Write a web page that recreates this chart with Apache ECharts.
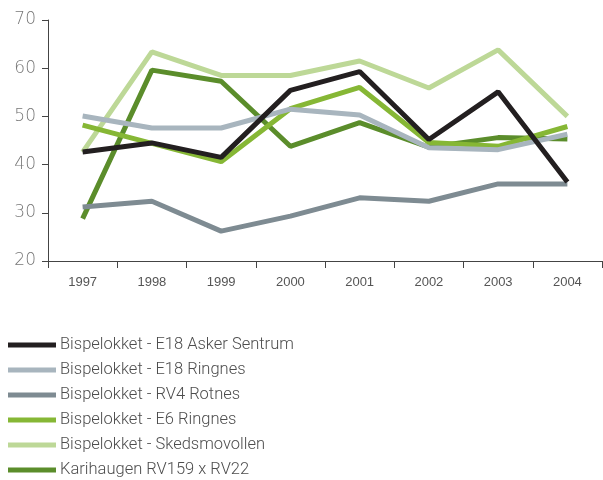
<!DOCTYPE html>
<html>
<head>
<meta charset="utf-8">
<script src="https://cdn.jsdelivr.net/npm/echarts@6/dist/echarts.min.js"></script>
<style>
html,body{margin:0;padding:0;background:#fff;}
#chart{width:603px;height:480px;}
</style>
</head>
<body>
<div id="chart"></div>
<script>
//数据
var years=['1997','1998','1999','2000','2001','2002','2003','2004'];
var names=['Bispelokket - E18 Asker Sentrum','Bispelokket - E18 Ringnes','Bispelokket - RV4 Rotnes','Bispelokket - E6 Ringnes','Bispelokket - Skedsmovollen','Karihaugen RV159 x RV22'];
var askerSentrum=[42.6,44.5,41.5,55.4,59.3,45.2,55.1,36.4];
var e18Ringnes=[50.1,47.6,47.6,51.5,50.3,43.5,43.1,46.3];
var rv4Rotnes=[31.2,32.4,26.2,29.3,33.1,32.4,36.0,36.0];
var e6Ringnes=[48.2,44.4,40.6,51.6,56.0,44.6,43.8,47.9];
var skedsmovollen=[42.6,63.4,58.5,58.5,61.5,55.9,63.8,50.0];
var karihaugen=[28.8,59.6,57.3,43.8,48.7,43.6,45.6,45.3];
var colors=['#231f20','#a8b5be','#7e8b92','#86b735','#bdd897','#5b8d2b'];

var chartData=[askerSentrum,e18Ringnes,rv4Rotnes,e6Ringnes,skedsmovollen,karihaugen];
var series=[];
for(var i=0;i<chartData.length;i++){
	series.push({
		name:names[i],
		type:'line',
		data:chartData[i],
		symbol:'none',
		lineStyle:{width:5,color:colors[i]},
		itemStyle:{color:colors[i]},
		z:10-i
	});
}
// 黑线放最上面
series[0].z=20;

var myChart=echarts.init(document.getElementById('chart'));
var option={
	animation:false,
	backgroundColor:'#ffffff',
	grid:{left:48,right:1,top:20,bottom:219},
	legend:{
		orient:'vertical',
		left:8,
		top:336,
		itemWidth:48,
		itemHeight:5,
		itemGap:7,
		icon:'rect',
		padding:0,
		data:names,
		textStyle:{color:'#4d4d4d',fontSize:16.5,lineHeight:18,fontFamily:'Roboto',fontWeight:300,padding:[0,0,0,-1]}
	},
	xAxis:{
		type:'category',
		data:years,
		boundaryGap:true,
		axisLine:{lineStyle:{color:'#444',width:1}},
		axisTick:{show:true,length:7,lineStyle:{color:'#444'}},
		axisLabel:{color:'#555',fontSize:13,margin:15,fontFamily:'Liberation Sans Narrow, Liberation Sans'},
		splitLine:{show:false}
	},
	yAxis:{
		type:'value',
		min:20,
		max:70,
		interval:10,
		axisLine:{show:true,lineStyle:{color:'#444',width:1}},
		axisTick:{show:true,length:6,lineStyle:{color:'#444'}},
		axisLabel:{color:'#777',fontSize:17,margin:12,fontFamily:'DejaVu Sans',fontWeight:300},
		splitLine:{show:false}
	},
	series:series
};
myChart.setOption(option);
</script>
</body>
</html>
